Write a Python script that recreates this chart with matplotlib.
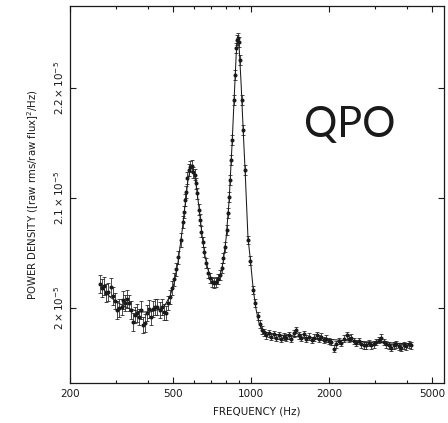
import matplotlib
matplotlib.use("Agg")
import matplotlib.pyplot as plt
from matplotlib.ticker import FixedLocator, FixedFormatter, LogLocator, NullFormatter

# ---- data (power in units of 1e-5) ---------------------------------------------------
freq = [261.1, 265.8, 270.6, 275.4, 280.4, 287.9, 293.1, 298.3, 303.7, 309.1,
        317.6, 320.4, 326.2, 332.0, 338.0, 344.1, 350.2, 356.5, 362.9, 369.4,
        376.1, 382.9, 389.7, 396.7, 403.8, 411.1, 418.5, 426.0, 433.6, 445.4,
        453.4, 461.5, 469.8, 478.2, 486.9, 495.6, 504.5, 513.5, 522.7, 537.0,
        546.6, 551.5, 556.4, 561.4, 566.4, 576.6, 581.8, 592.2, 597.5, 608.2,
        613.7, 619.1, 630.2, 636.0, 641.7, 653.2, 659.0, 670.8, 682.9, 695.2,
        707.6, 720.3, 733.2, 746.4, 759.9, 773.5, 780.4, 794.4, 808.7, 815.9,
        823.2, 830.7, 838.1, 845.6, 860.8, 868.5, 876.3, 884.1, 892.0, 900.0,
        908.0, 924.3, 932.5, 949.2, 974.8, 992.6, 1019.4, 1037.6, 1065.6, 1083.0,
        1102.4,
        1122, 1147, 1173, 1199, 1226, 1254, 1282, 1311, 1340, 1370,
        1401, 1433, 1465, 1498, 1532, 1566, 1601, 1637, 1674, 1712,
        1750, 1790, 1830, 1871, 1913, 1956, 2000, 2045, 2091, 2138,
        2186, 2235, 2285, 2337, 2389, 2443, 2498, 2554, 2611, 2670,
        2730, 2791, 2854, 2918, 2984, 3051, 3119, 3189, 3261, 3334,
        3409, 3486, 3564, 3644, 3726, 3810, 3895, 3983, 4072, 4164]
power = [2.0218, 2.0182, 2.0200, 2.0136, 2.0145, 2.0191, 2.0109, 2.0064, 1.9982, 2.0000,
         2.0009, 2.0073, 2.0045, 2.0082, 2.0045, 1.9982, 1.9873, 1.9936, 1.9955, 1.9918,
         1.9982, 1.9845, 1.9864, 1.9955, 1.9991, 1.9918, 1.9991, 2.0009, 2.0009, 1.9982,
         2.0009, 1.9964, 1.9955, 2.0045, 2.0100, 2.0182, 2.0260, 2.0350, 2.0460, 2.0618,
         2.0782, 2.0873, 2.0982, 2.1055, 2.1182, 2.1255, 2.1282, 2.1291, 2.1236, 2.1209,
         2.1136, 2.1045, 2.0891, 2.0800, 2.0691, 2.0600, 2.0509, 2.0409, 2.0318, 2.0273,
         2.0236, 2.0227, 2.0236, 2.0264, 2.0300, 2.0364, 2.0455, 2.0555, 2.0709, 2.0864,
         2.1009, 2.1164, 2.1345, 2.1527, 2.1891, 2.2118, 2.2364, 2.2436, 2.2455, 2.2418,
         2.2255, 2.1891, 2.1618, 2.1255, 2.0618, 2.0430, 2.0164, 2.0045, 1.9927, 1.9855,
         1.9800,
         1.978, 1.975, 1.977, 1.974, 1.976, 1.973, 1.975, 1.972, 1.974, 1.973,
         1.975, 1.972, 1.977, 1.980, 1.975, 1.973, 1.976, 1.972, 1.974, 1.971,
         1.973, 1.975, 1.972, 1.974, 1.971, 1.972, 1.970, 1.969, 1.963, 1.967,
         1.970, 1.968, 1.972, 1.975, 1.972, 1.973, 1.970, 1.968, 1.970, 1.967,
         1.966, 1.966, 1.968, 1.966, 1.967, 1.969, 1.971, 1.973, 1.969, 1.967,
         1.966, 1.964, 1.966, 1.967, 1.965, 1.964, 1.966, 1.965, 1.967, 1.966]
err = [0.0085, 0.0085, 0.0080, 0.0080, 0.0085, 0.0080, 0.0080, 0.0075, 0.0080, 0.0080,
       0.0075, 0.0080, 0.0075, 0.0080, 0.0075, 0.0080, 0.0080, 0.0075, 0.0080, 0.0075,
       0.0080, 0.0075, 0.0080, 0.0075, 0.0080, 0.0075, 0.0070, 0.0075, 0.0070, 0.0070,
       0.0070, 0.0070, 0.0065, 0.0065, 0.0065, 0.0060, 0.0060, 0.0060, 0.0060, 0.0060,
       0.0055, 0.0055, 0.0055, 0.0055, 0.0055, 0.0055, 0.0050, 0.0050, 0.0050, 0.0050,
       0.0050, 0.0050, 0.0050, 0.0050, 0.0050, 0.0045, 0.0045, 0.0045, 0.0045, 0.0045,
       0.0045, 0.0045, 0.0045, 0.0045, 0.0045, 0.0045, 0.0045, 0.0045, 0.0045, 0.0045,
       0.0045, 0.0045, 0.0045, 0.0045, 0.0045, 0.0045, 0.0045, 0.0045, 0.0045, 0.0045,
       0.0045, 0.0045, 0.0045, 0.0045, 0.0040, 0.0040, 0.0040, 0.0040, 0.0035, 0.0035,
       0.0035,
       0.0032, 0.0032, 0.0032, 0.0032, 0.0032, 0.0032, 0.0032, 0.0032, 0.0032, 0.0032,
       0.0030, 0.0030, 0.0030, 0.0030, 0.0030, 0.0030, 0.0030, 0.0030, 0.0030, 0.0030,
       0.0030, 0.0030, 0.0030, 0.0030, 0.0030, 0.0030, 0.0030, 0.0030, 0.0030, 0.0030,
       0.0030, 0.0030, 0.0030, 0.0030, 0.0030, 0.0030, 0.0030, 0.0030, 0.0030, 0.0030,
       0.0030, 0.0030, 0.0030, 0.0030, 0.0030, 0.0030, 0.0030, 0.0030, 0.0030, 0.0030,
       0.0030, 0.0030, 0.0030, 0.0030, 0.0030, 0.0030, 0.0030, 0.0030, 0.0030, 0.0030]

# fitted model curve (two QPO peaks over a sloping continuum)
model_f = [261.1, 273.0, 285.4, 312.0, 341.0, 372.8, 407.5, 445.4, 465.5, 486.9,
           504.5, 522.7, 541.3, 556.4, 571.0, 581.8, 592.2, 602.3, 613.7, 630.2,
           646.6, 664.1, 682.9, 700.5, 720.3, 739.2, 759.9, 780.4, 801.5, 823.2,
           845.6, 860.8, 876.3, 888.0, 900.0, 916.1, 932.5, 949.2, 973.3, 992.6,
           1019.4, 1045.1, 1073.4, 1112.2, 1183.9, 1545, 2411, 4146]
model_p = [2.0218, 2.0155, 2.0100, 2.0036, 1.9991, 1.9964, 1.9964, 1.9991, 2.0027, 2.0109,
           2.0227, 2.0418, 2.0691, 2.0936, 2.1164, 2.1255, 2.1282, 2.1236, 2.1118, 2.0909,
           2.0664, 2.0473, 2.0345, 2.0264, 2.0236, 2.0245, 2.0291, 2.0418, 2.0636, 2.0982,
           2.1509, 2.1909, 2.2300, 2.2464, 2.2364, 2.2027, 2.1618, 2.1236, 2.0636, 2.0455,
           2.0173, 1.9991, 1.9864, 1.9791, 1.9764, 1.9736, 1.9700, 1.9673]

xticks = [200, 500, 1000, 2000, 5000]
yticks = [2.0e-5, 2.1e-5, 2.2e-5]
ytick_labels = [r"$2\times10^{-5}$", r"$2.1\times10^{-5}$", r"$2.2\times10^{-5}$"]

# ---- figure --------------------------------------------------------------------------
plt.rcParams["font.family"] = ["DejaVu Sans"]
plt.rcParams["mathtext.fontset"] = "dejavusans"
ink = "#1a1a1a"

fig = plt.figure(figsize=(4.48, 4.23), dpi=100)
ax = fig.add_axes([70 / 448, 40 / 423, 374 / 448, 377 / 423])

ax.errorbar(freq, [p * 1e-5 for p in power], yerr=[e * 1e-5 for e in err],
            fmt="o", ms=1.9, color=ink, ecolor=ink, elinewidth=0.55,
            capsize=1.4, capthick=0.55, zorder=3)
ax.plot(model_f, [p * 1e-5 for p in model_p], color=ink, lw=0.75, zorder=2)

ax.set_xscale("log")
ax.set_xlim(200, 5560)
ax.set_ylim(1.9318e-5, 2.2745e-5)

ax.xaxis.set_major_locator(FixedLocator(xticks))
ax.xaxis.set_major_formatter(FixedFormatter([str(t) for t in xticks]))
ax.xaxis.set_minor_locator(LogLocator(base=10, subs=range(2, 10)))
ax.xaxis.set_minor_formatter(NullFormatter())
ax.yaxis.set_major_locator(FixedLocator(yticks))
ax.yaxis.set_major_formatter(FixedFormatter(ytick_labels))

ax.tick_params(which="both", direction="in", top=True, right=True, color=ink, width=0.8)
ax.tick_params(which="major", length=4.5)
ax.tick_params(which="minor", length=2.5)
ax.tick_params(axis="x", labelsize=7.5, pad=4, labelcolor=ink)
ax.tick_params(axis="y", labelsize=7.5, pad=3, labelcolor=ink)
for lab in ax.get_yticklabels():
    lab.set_rotation(90)
    lab.set_va("center")
for sp in ax.spines.values():
    sp.set_linewidth(0.9)
    sp.set_color(ink)

ax.set_xlabel("FREQUENCY (Hz)", fontsize=7.5, color=ink, labelpad=6)
ax.set_ylabel(r"POWER DENSITY ([raw rms/raw flux]$^2$/Hz)", fontsize=7.3, color=ink, labelpad=8)

ax.text(0.749, 0.684, "QPO", transform=ax.transAxes, ha="center", va="center",
        fontsize=30, family="Lato", color=ink)

fig.savefig("out.png", dpi=100)
